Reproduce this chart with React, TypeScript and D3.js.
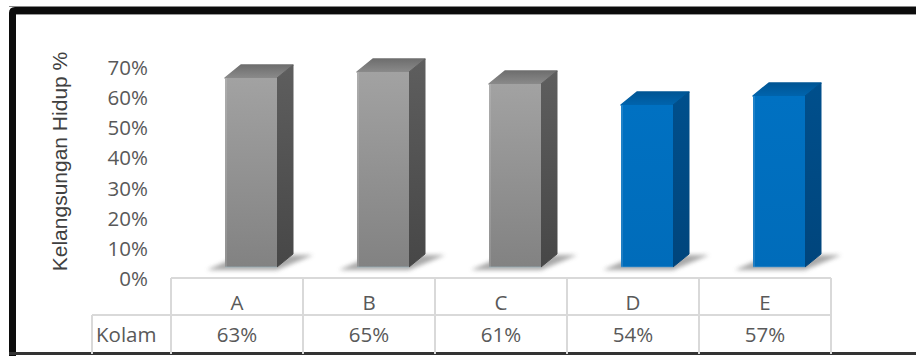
import React from "react";
import * as d3 from "d3";

const categories = ["A", "B", "C", "D", "E"];
const values = [0.63, 0.65, 0.61, 0.54, 0.57];
const valueLabels = ["63%", "65%", "61%", "54%", "57%"];
const yTicks = [0, 0.1, 0.2, 0.3, 0.4, 0.5, 0.6, 0.7];
const seriesName = "Kolam";
const yTitle = "Kelangsungan Hidup %";
const highlighted = ["D", "E"];

const W = 916;
const H = 356;

export default function App() {
  const x = d3.scaleBand<string>().domain(categories).range([171, 831]).paddingInner(0).paddingOuter(0);
  const y = d3.scaleLinear().domain([0, 0.7]).range([267, 57]);
  const yLab = d3.scaleLinear().domain([0, 0.7]).range([286, 75]);
  const fmt = d3.format(".0%");

  const barW = 52;
  const dx = 16;
  const dy = -13;
  const y0 = y(0);

  const tableTop = 278;
  const tableMid = 315;
  const tableBot = 354;
  const tableLeft = 92;
  const gridColor = "#d9d9d9";
  const textColor = "#595959";
  const font = "'Open Sans', 'Liberation Sans', sans-serif";
  const fs = 20.5;

  return (
    <svg width={W} height={H} viewBox={`0 0 ${W} ${H}`} style={{ position: "absolute", left: 0, top: 0, background: "#fff" }}>
      <defs>
        <linearGradient id="grayFront" x1="0" y1="0" x2="0" y2="1">
          <stop offset="0" stopColor="#a2a2a2" />
          <stop offset="1" stopColor="#828282" />
        </linearGradient>
        <linearGradient id="graySide" x1="0" y1="0" x2="0" y2="1">
          <stop offset="0" stopColor="#5e5e5e" />
          <stop offset="1" stopColor="#474747" />
        </linearGradient>
        <linearGradient id="grayTop" x1="0" y1="1" x2="0" y2="0">
          <stop offset="0" stopColor="#8a8a8a" />
          <stop offset="1" stopColor="#6e6e6e" />
        </linearGradient>
        <linearGradient id="blueFront" x1="0" y1="0" x2="0" y2="1">
          <stop offset="0" stopColor="#0071c2" />
          <stop offset="1" stopColor="#006cba" />
        </linearGradient>
        <linearGradient id="blueSide" x1="0" y1="0" x2="0" y2="1">
          <stop offset="0" stopColor="#004f8c" />
          <stop offset="1" stopColor="#00457c" />
        </linearGradient>
        <linearGradient id="blueTop" x1="0" y1="1" x2="0" y2="0">
          <stop offset="0" stopColor="#0064ad" />
          <stop offset="1" stopColor="#005594" />
        </linearGradient>
        <filter id="shadowBlur" x="-50%" y="-50%" width="200%" height="200%">
          <feGaussianBlur stdDeviation="2.2" />
        </filter>
      </defs>

      {/* frame */}
      <path d={`M9,356 L9,13 Q9,7 15,7 L916,7 L916,14 L16,14 L16,356 Z`} fill="#0c0c0c" />
      <line x1={9} x2={916} y1={6.5} y2={6.5} stroke="#888" strokeWidth={1} />
      <line x1={16} x2={916} y1={14.5} y2={14.5} stroke="#999" strokeWidth={1} />
      <rect x={9} y={352} width={907} height={3} fill="#333" />

      {/* y axis title */}
      <text
        transform={`translate(67,161.5) rotate(-90)`}
        textAnchor="middle"
        fontFamily="'Liberation Sans', Arial, sans-serif"
        fontSize={21}
        fill="#404040"
        style={{ whiteSpace: "pre" }}
      >
        {yTitle}
      </text>

      {/* y tick labels */}
      {yTicks.map((t) => (
        <text key={t} x={148} y={yLab(t)} textAnchor="end" fontFamily={font} fontSize={fs} fill={textColor}>
          {fmt(t)}
        </text>
      ))}

      {/* bars */}
      {categories.map((c, i) => {
        const v = values[i];
        const xl = (x(c) as number) + 54;
        const xr = xl + barW;
        const yt = y(v);
        const blue = highlighted.includes(c);
        const front = blue ? "url(#blueFront)" : "url(#grayFront)";
        const side = blue ? "url(#blueSide)" : "url(#graySide)";
        const top = blue ? "url(#blueTop)" : "url(#grayTop)";
        const shadow = `M${xl - 18},${y0 + 3} L${xr},${y0 + 3} L${xr + dx + 20},${y0 + dy + 1} L${xl + dx},${y0 + dy + 1} Z`;
        return (
          <g key={c}>
            <path d={shadow} fill="#8c8c8c" opacity={0.75} filter="url(#shadowBlur)" />
            <path
              d={`M${xl},${yt} L${xl + dx},${yt + dy} L${xr + dx},${yt + dy} L${xr},${yt} Z`}
              fill={top}
              stroke={top}
              strokeWidth={1.5}
              strokeLinejoin="round"
            />
            <path
              d={`M${xr},${yt} L${xr + dx},${yt + dy} L${xr + dx},${y0 + dy} L${xr},${y0} Z`}
              fill={side}
              stroke={side}
              strokeWidth={1}
              strokeLinejoin="round"
            />
            <rect x={xl} y={yt} width={barW} height={y0 - yt} fill={front} />
            <rect x={xl} y={yt} width={2} height={y0 - yt} fill="#fff" opacity={0.12} />
            <line x1={xl} x2={xr} y1={y0} y2={y0} stroke={blue ? "#5fa0d0" : "#9ab8c4"} strokeWidth={1} opacity={0.6} />
          </g>
        );
      })}

      {/* data table */}
      <g stroke={gridColor} strokeWidth={2} fill="none">
        <line x1={171} x2={831} y1={tableTop} y2={tableTop} />
        <line x1={tableLeft} x2={831} y1={tableMid} y2={tableMid} />
        <line x1={tableLeft} x2={tableLeft} y1={tableMid} y2={tableBot} />
        {categories.map((c) => (
          <line key={c} x1={x(c) as number} x2={x(c) as number} y1={tableTop} y2={tableBot} />
        ))}
        <line x1={831} x2={831} y1={tableTop} y2={tableBot} />
      </g>
      {categories.map((c, i) => {
        const cx = (x(c) as number) + x.bandwidth() / 2;
        return (
          <g key={c} fontFamily={font} fontSize={fs} fill={textColor} textAnchor="middle">
            <text x={cx} y={309.5}>{c}</text>
            <text x={cx} y={341.5}>{valueLabels[i]}</text>
          </g>
        );
      })}
      <text x={96} y={341.5} fontFamily={font} fontSize={fs} fill={textColor}>
        {seriesName}
      </text>
    </svg>
  );
}
